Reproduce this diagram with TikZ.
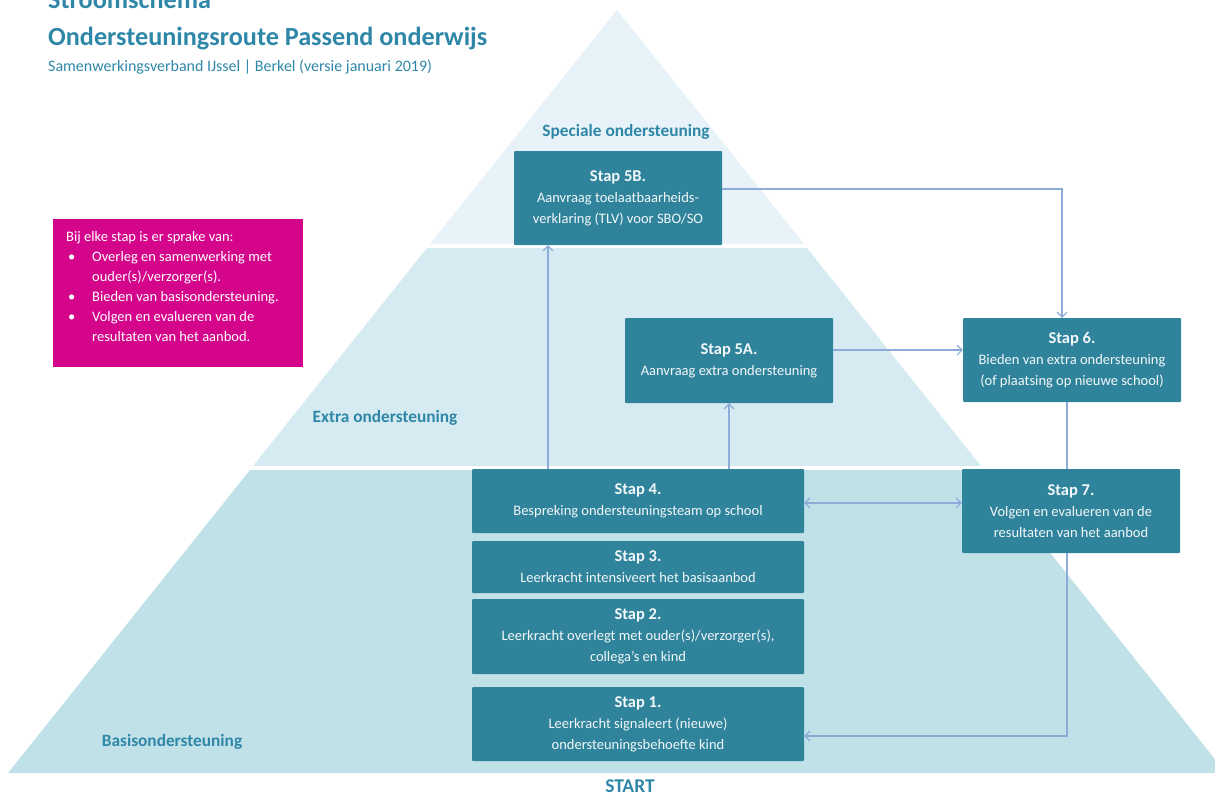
\documentclass[tikz,border=0pt]{standalone}
\usepackage{fontspec}
\setmainfont{Carlito}
\usetikzlibrary{arrows.meta,calc}
\definecolor{tierA}{HTML}{E7F3F8}
\definecolor{tierB}{HTML}{D5EBF1}
\definecolor{tierC}{HTML}{C1E1E9}
\definecolor{boxc}{HTML}{2F849C}
\definecolor{boxtext}{HTML}{F2F7F9}
\definecolor{headc}{HTML}{2F87A8}
\definecolor{magc}{HTML}{D4058B}
\definecolor{connc}{HTML}{8CABD9}
\newcommand{\stephead}[1]{{\bfseries\fontsize{16.5}{21}\selectfont #1}}
\begin{document}
\begin{tikzpicture}[x=1pt,y=-1pt,
  stepbox/.style={fill=boxc, text=boxtext, rounded corners=1pt, align=center, inner sep=0pt, font=\fontsize{14.5}{21}\selectfont},
  tierlabel/.style={text=headc, font=\bfseries\fontsize{17.3}{20}\selectfont, inner sep=0pt},
  tip/.tip={Straight Barb[length=5pt,width=10pt,line width=1.1pt]},
  conn/.style={draw=connc, line width=1.4pt, -tip},
  connplain/.style={draw=connc, line width=1.4pt},
  magbox/.style={fill=magc, inner sep=0pt, anchor=north west},
  magtext/.style={text=white, inner sep=0pt, anchor=north west, align=left, font=\fontsize{14.5}{20}\selectfont}]
\useasboundingbox (0,0) rectangle (1215,796);
\clip (0,0) rectangle (1215,796);
% pyramid
\fill[tierA] (617,10) -- (804,244) -- (430,244) -- cycle;
\fill[tierB] (427,248) -- (807,248) -- (981,466) -- (253,466) -- cycle;
\fill[tierC] (250,470) -- (984,470) -- (1226,773) -- (8,773) -- cycle;
% titles
\node[anchor=base west, inner sep=0pt, text=headc, font=\bfseries\fontsize{26.2}{30}\selectfont] (t0) at (48,8) {Stroomschema};
\node[anchor=base west, inner sep=0pt, text=headc, font=\bfseries\fontsize{26.2}{30}\selectfont] (t1) at (48,45) {Ondersteuningsroute Passend onderwijs};
\node[anchor=base west, inner sep=0pt, text=headc, font=\fontsize{16}{19}\selectfont] (t2) at (48,71) {Samenwerkingsverband IJssel | Berkel (versie januari 2019)};
% tier labels
\node[tierlabel] (lspec) at (626,132) {Speciale ondersteuning};
\node[tierlabel] (lextra) at (385,418) {Extra ondersteuning};
\node[tierlabel] (lbasis) at (172,742) {Basisondersteuning};
\node[tierlabel, font=\bfseries\fontsize{19.5}{22}\selectfont, anchor=base] (lstart) at (630,792) {START};
% info box
\node[magbox, minimum width=250pt, minimum height=148pt] (info) at (53,219) {};
\node[magtext] (infotext) at ($(info.north west)+(13,8)$) {%
\begin{tabular}{@{}p{26pt}@{}l@{}}
\multicolumn{2}{@{}l@{}}{Bij elke stap is er sprake van:}\\
\hspace{2pt}\textbullet & Overleg en samenwerking met\\
 & ouder(s)/verzorger(s).\\
\hspace{2pt}\textbullet & Bieden van basisondersteuning.\\
\hspace{2pt}\textbullet & Volgen en evalueren van de\\
 & resultaten van het aanbod.
\end{tabular}};
% steps
\node[stepbox, minimum width=208pt, minimum height=94pt] (s5b) at (618,198) {\stephead{Stap 5B.}\\Aanvraag toelaatbaarheids-\\verklaring (TLV) voor SBO/SO};
\node[stepbox, minimum width=208pt, minimum height=85pt] (s5a) at (729,360.5) {\stephead{Stap 5A.}\\Aanvraag extra ondersteuning};
\node[stepbox, minimum width=218pt, minimum height=84pt] (s6) at (1072,360) {\stephead{Stap 6.}\\Bieden van extra ondersteuning\\(of plaatsing op nieuwe school)};
\node[stepbox, minimum width=332pt, minimum height=64pt] (s4) at (638,501) {\stephead{Stap 4.}\\Bespreking ondersteuningsteam op school};
\node[stepbox, minimum width=332pt, minimum height=52pt] (s3) at (638,567) {\stephead{Stap 3.}\\Leerkracht intensiveert het basisaanbod};
\node[stepbox, minimum width=332pt, minimum height=75pt] (s2) at (638,636.5) {\stephead{Stap 2.}\\Leerkracht overlegt met ouder(s)/verzorger(s),\\collega's en kind};
\node[stepbox, minimum width=332pt, minimum height=74pt] (s1) at (638,724) {\stephead{Stap 1.}\\Leerkracht signaleert (nieuwe)\\ondersteuningsbehoefte kind};
\node[stepbox, minimum width=218pt, minimum height=84pt] (s7) at (1071,511) {\stephead{Stap 7.}\\Volgen en evalueren van de\\resultaten van het aanbod};
% connectors
\coordinate (xa) at (548,0);
\draw[conn] (s4.north -| xa) -- (s5b.south -| xa);
\draw[conn] (s4.north -| s5a.south) -- (s5a.south);
\coordinate (ya) at (0,350);
\draw[conn] (s5a.east |- ya) -- (s6.west |- ya);
\coordinate (yb) at (0,189);
\coordinate (xb) at (1062,0);
\draw[conn] (s5b.east |- yb) -- (xb |- yb) -- (s6.north -| xb);
\coordinate (xc) at (1067,0);
\draw[connplain] (s6.south -| xc) -- (s7.north -| xc);
\coordinate (yc) at (0,503);
\draw[conn, tip-tip] (s4.east |- yc) -- (s7.west |- yc);
\coordinate (yd) at (0,736);
\draw[conn] (s7.south -| xc) -- (xc |- yd) -- (s1.east |- yd);
\end{tikzpicture}
\end{document}
